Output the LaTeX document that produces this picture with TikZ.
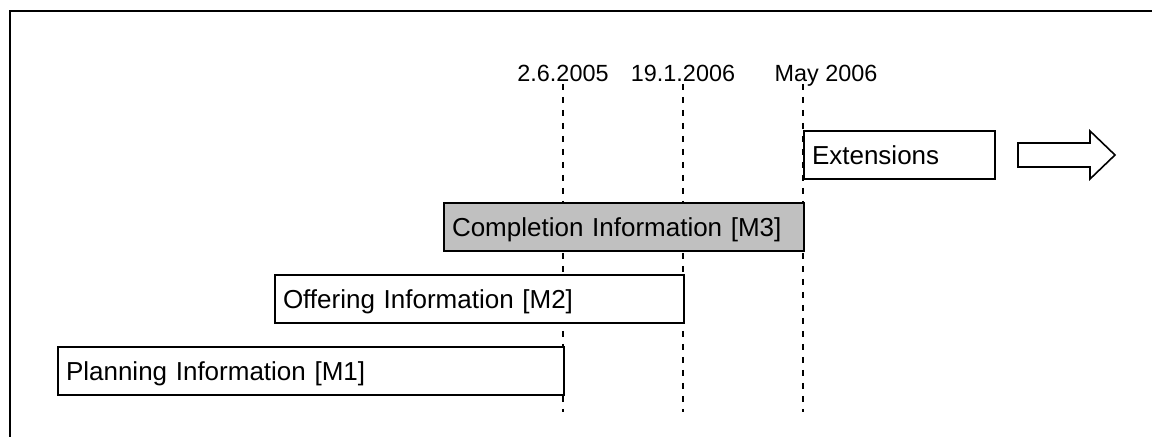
\documentclass[tikz,border=0pt]{standalone}
\usepackage{fontspec}
\setmainfont{Liberation Sans}
\usepackage{tikz}
\usetikzlibrary{positioning}
\definecolor{donegray}{RGB}{192,192,192}
\tikzstyle{bar} = [rectangle, draw=black, line width=1pt, fill=white, anchor=west, minimum height=24pt, inner xsep=4pt, inner ysep=0pt, text height=9.3pt, text depth=0pt, align=left, font=\fontsize{13}{15}\selectfont]
\tikzstyle{datelabel} = [anchor=base, inner sep=0pt, font=\fontsize{11.7}{14}\selectfont]
\tikzstyle{milestone} = [dash pattern=on 3pt off 3.5pt, line width=0.75pt]
\tikzstyle{blockarrow} = [draw=black, line width=0.8pt, fill=white]

\begin{document}
\begin{tikzpicture}[x=0.5pt, y=-0.5pt]
    \useasboundingbox (0,0) rectangle (1152,437);

    % Frame
    \draw[line width=1pt] (10,437) -- (10,11) -- (1153,11);

    % Milestones
    \coordinate (m1top) at (563,84);
    \coordinate (m1bot) at (563,412);
    \coordinate (m2top) at (683,84);
    \coordinate (m2bot) at (683,412);
    \coordinate (m3top) at (803,84);
    \coordinate (m3bot) at (803,412);
    \draw[milestone] (m1top) -- (m1bot);
    \draw[milestone] (m2top) -- (m2bot);
    \draw[milestone] (m3top) -- (m3bot);
    \node[datelabel] (d1) at (563,82) {2.6.2005};
    \node[datelabel] (d2) at (683,82) {19.1.2006};
    \node[datelabel] (d3) at (826,82) {May 2006};

    % Phases
    \node[bar, text width=245pt] (planning) at (57,371) {Planning Information [M1]};
    \node[bar, text width=196.5pt] (offering) at (274,299) {Offering Information [M2]};
    \node[bar, fill=donegray, text width=172pt] (completion) at (443,227) {Completion Information [M3]};
    \node[bar, text width=87.5pt] (extensions) at (803,155) {Extensions};

    % Outlook
    \draw[blockarrow] (1018,143) -- (1090,143) -- (1090,131) -- (1115,155)
        -- (1090,179) -- (1090,167) -- (1018,167) -- cycle;
\end{tikzpicture}
\end{document}
